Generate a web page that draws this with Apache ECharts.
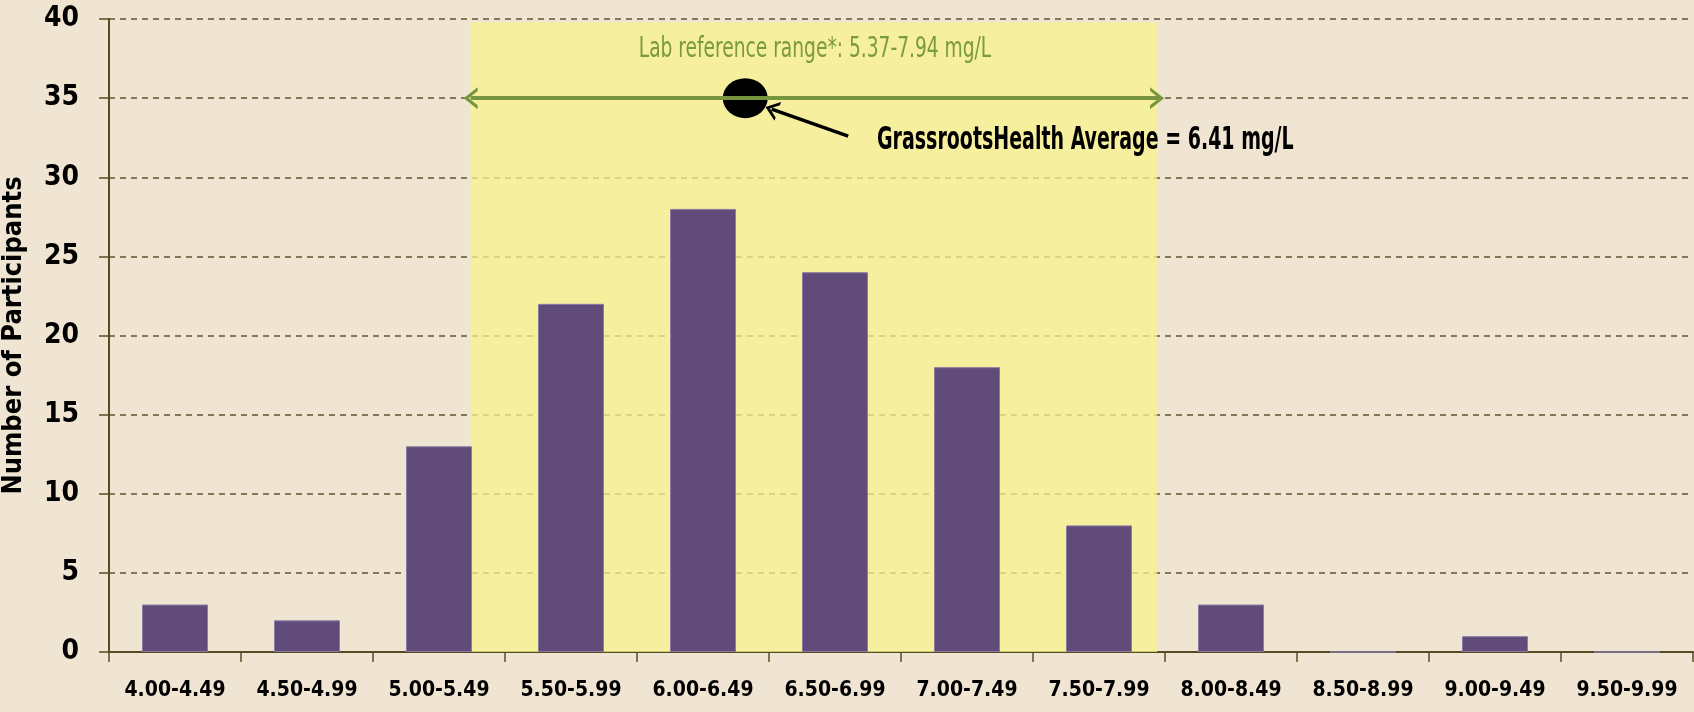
<!doctype html>
<html>
<head>
<meta charset="utf-8">
<title>Participants</title>
<script src="https://cdn.jsdelivr.net/npm/echarts@6/dist/echarts.min.js"></script>
<style>
  html, body { margin: 0; padding: 0; background: #f0e5d2; }
  #main { width: 1694px; height: 712px; }
</style>
</head>
<body>
<div id="main"></div>
<script>
// bins and counts
var categories = ['4.00-4.49', '4.50-4.99', '5.00-5.49', '5.50-5.99', '6.00-6.49', '6.50-6.99',
                  '7.00-7.49', '7.50-7.99', '8.00-8.49', '8.50-8.99', '9.00-9.49', '9.50-9.99'];
var counts = [3, 2, 13, 22, 28, 24, 18, 8, 3, 0, 1, 0];
var yTicks = [0, 5, 10, 15, 20, 25, 30, 35, 40];

// reference band as drawn (mg/L) and the average
var refRange = [5.37, 7.97];
var average = 6.41;
var markY = 35;
// arrow from the text to the dot
var pointerFrom = [6.80, 32.6];
var pointerTo = [6.51, 34.3];

var font = "'DejaVu Sans Condensed', 'Liberation Sans Narrow', sans-serif";
var chevron = 'path://M0,14 L10,0 L20,14 L16.5,14 L10,5 L3.5,14 Z';

var chart = echarts.init(document.getElementById('main'));

var option = {
  backgroundColor: '#f0e5d2',
  animation: false,
  grid: { left: 109, right: 1, top: 19, bottom: 60, containLabel: false, outerBoundsMode: 'none' },
  xAxis: [
    {
      type: 'category',
      data: categories,
      boundaryGap: true,
      axisLine: { lineStyle: { color: '#564c22', width: 2 } },
      axisTick: { show: true, length: 10, lineStyle: { color: '#564c22', width: 1.5 } },
      axisLabel: { interval: 0, color: '#000', fontFamily: font, fontWeight: 'bold', fontSize: 21, margin: 28 }
    },
    {
      type: 'value',
      min: 4, max: 10,
      show: false
    }
  ],
  yAxis: {
    type: 'value',
    min: yTicks[0], max: yTicks[yTicks.length - 1], interval: 5,
    name: 'Number of Participants',
    nameLocation: 'middle',
    nameGap: 82,
    nameTextStyle: { color: '#000', fontFamily: font, fontWeight: 'bold', fontSize: 27 },
    axisLine: { show: true, lineStyle: { color: '#564c22', width: 2 } },
    axisTick: { show: true, length: 10, lineStyle: { color: '#564c22', width: 1.5 } },
    axisLabel: { color: '#000', fontFamily: font, fontWeight: 'bold', fontSize: 28, margin: 30 },
    splitLine: { show: true, lineStyle: { color: '#5e5630', type: [6, 5], width: 1.5 } }
  },
  graphic: [
    {
      type: 'text', x: 815, y: 50, scaleX: 0.74, z: 10,
      style: { text: 'Lab reference range*: 5.37-7.94 mg/L', fill: '#7a9a3e',
               font: '28px ' + font, textAlign: 'center', textVerticalAlign: 'middle' }
    },
    {
      type: 'text', x: 877, y: 141, scaleX: 0.66, z: 10,
      style: { text: 'GrassrootsHealth Average = 6.41 mg/L', fill: '#000',
               font: 'bold 32px ' + font, textAlign: 'left', textVerticalAlign: 'middle' }
    }
  ],
  series: [
    {
      // reference band, arrows and average dot
      type: 'line',
      xAxisIndex: 1,
      z: 1,
      symbol: 'circle',
      symbolSize: [45, 40],
      itemStyle: { color: '#000' },
      lineStyle: { width: 0 },
      data: [[average, markY]],
      markArea: {
        silent: true,
        itemStyle: { color: 'rgba(247, 242, 140, 0.75)' },
        data: [[{ coord: [refRange[0], 39.8] }, { coord: [refRange[1], 0] }]]
      },
      markLine: {
        silent: true,
        animation: false,
        label: { show: false },
        data: [
          [
            { coord: [refRange[0], markY], symbol: chevron, symbolSize: [22, 14],
              lineStyle: { color: '#77953d', width: 4, type: 'solid' } },
            { coord: [refRange[1], markY], symbol: chevron, symbolSize: [22, 14] }
          ],
          [
            { coord: pointerFrom, symbol: 'none',
              lineStyle: { color: '#000', width: 3.5, type: 'solid' } },
            { coord: pointerTo, symbol: chevron, symbolSize: [20, 13] }
          ]
        ]
      }
    },
    {
      type: 'bar',
      z: 3,
      data: counts,
      barWidth: '50%',
      itemStyle: { color: '#604b7a', borderColor: '#8c7aa3', borderWidth: 1 }
    }
  ]
};

chart.setOption(option);
</script>
</body>
</html>
